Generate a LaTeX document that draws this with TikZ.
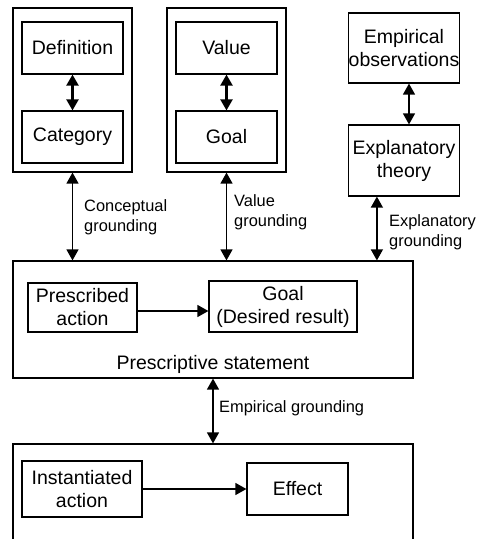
\documentclass[tikz,border=0pt]{standalone}
\usepackage{fontspec}
\setmainfont{Liberation Sans}
\usetikzlibrary{arrows.meta,calc}
\tikzset{
  box/.style={draw, line width=1.2pt, inner sep=0pt, align=center, font=\fontsize{19.5}{23}\selectfont},
  lbl/.style={inner sep=0pt, align=left, anchor=west, font=\fontsize{16.4}{20}\selectfont},
  link/.style={line width=1.3pt, {Triangle[length=11pt,width=12pt]}-{Triangle[length=11pt,width=12pt]}},
  thicklink/.style={line width=2.2pt, {Triangle[length=11pt,width=12pt]}-{Triangle[length=11pt,width=12pt]}},
  flow/.style={line width=1.3pt, -{Triangle[length=11pt,width=12pt]}}
}
\begin{document}
\begin{tikzpicture}[x=1pt,y=-1pt]
\clip (0,0) rectangle (479,539);
\fill[white] (0,0) rectangle (479,539);
% top left group
\node[box, minimum width=119pt, minimum height=164pt] (outL) at (72.5,90) {};
\node[box, minimum width=101pt, minimum height=52pt] (def) at (72.5,48) {Definition};
\node[box, minimum width=101pt, minimum height=52pt] (cat) at (72.5,137) {Category};
% top middle group
\node[box, minimum width=119pt, minimum height=164pt] (outM) at (226.5,90) {};
\node[box, minimum width=101pt, minimum height=52pt] (val) at (226.5,48) {Value};
\node[box, minimum width=101pt, minimum height=52pt] (goalA) at (226.5,137) {Goal};
% top right
\node[box, minimum width=111pt, minimum height=70pt] (emp) at (404,48) {Empirical\\observations};
\node[box, minimum width=111pt, minimum height=71pt] (expl) at (404,160.5) {Explanatory\\theory};
% prescriptive statement
\node[box, minimum width=400pt, minimum height=117pt] (pres) at (213,319.5) {};
\node[box, minimum width=109pt, minimum height=49pt] (pact) at (82.5,307.5) {Prescribed\\action};
\node[box, minimum width=148pt, minimum height=51pt] (goalB) at (283,306.5) {Goal\\(Desired result)};
\node[inner sep=0pt, font=\fontsize{19.5}{23}\selectfont] (prestxt) at (213,364) {Prescriptive statement};
% bottom
\node[box, minimum width=400pt, minimum height=140pt] (inst) at (213,514) {};
\node[box, minimum width=120pt, minimum height=56pt] (iact) at (82,489) {Instantiated\\action};
\node[box, minimum width=101pt, minimum height=52pt] (eff) at (297.5,489) {Effect};
% helper coordinates
\coordinate (eo) at ($(emp.south)+(5,0)$);
\coordinate (et) at ($(expl.north)+(5,0)$);
\coordinate (ex) at ($(expl.south west)+(29,0)$);
\coordinate (pa) at ($(pact.east)+(0,3.5)$);
% inner arrows
\draw[thicklink] (def.south) -- (cat.north);
\draw[thicklink] (val.south) -- (goalA.north);
\draw[link] (eo) -- (et);
% grounding arrows
\draw[link] (outL.south) -- (outL.south |- pres.north);
\draw[link] (outM.south) -- (outM.south |- pres.north);
\draw[link] (ex) -- (ex |- pres.north);
\draw[link] (pres.south) -- (inst.north);
% flows
\draw[flow] (pa) -- (pa -| goalB.west);
\draw[flow] (iact.east) -- (eff.west);
% labels
\node[lbl] (lc) at (84,217) {Conceptual\\grounding};
\node[lbl] (lv) at (234,212) {Value\\grounding};
\node[lbl] (le) at (389,232) {Explanatory\\grounding};
\node[lbl] (lg) at (219,408) {Empirical grounding};
\end{tikzpicture}
\end{document}
